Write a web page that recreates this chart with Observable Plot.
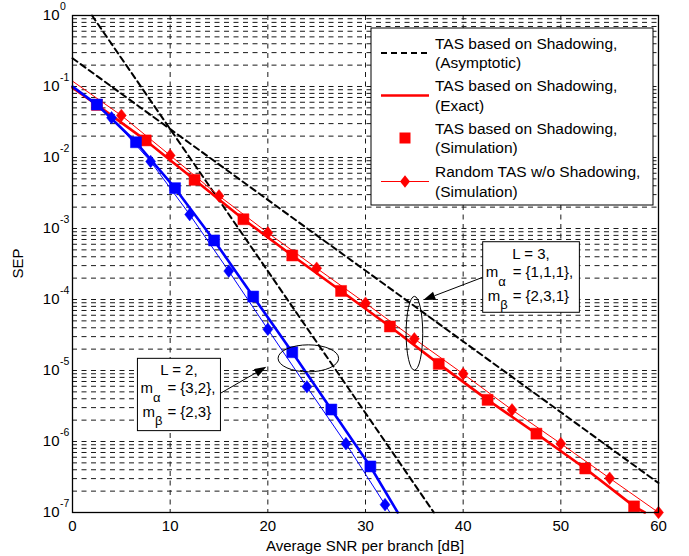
<!DOCTYPE html>
<html><head><meta charset="utf-8">
<script src="https://cdn.jsdelivr.net/npm/d3@7"></script>
<script src="https://cdn.jsdelivr.net/npm/@observablehq/plot@0.6"></script>
<style>
html,body{margin:0;padding:0;background:#fff;}
#chart svg{display:block;}
</style>
</head><body><div id="chart"></div>
<script>
const FONT = "'Liberation Sans', Arial, Helvetica, sans-serif";

// ---- axis ticks ----
const xTicks = [0, 10, 20, 30, 40, 50, 60];
const xGridTicks = [10, 20, 30, 40, 50];
const yDecades = [-7, -6, -5, -4, -3, -2, -1, 0];
const yMinorMultipliers = [1, 2, 3, 4, 5, 6, 7, 8, 9];

// ---- L = 2 (blue) ----
const blueSquareSNR = [2.5, 6.5, 10.5, 14.5, 18.5, 22.5, 26.5, 30.5];
const blueSquareSEP = [5.57e-2, 1.64e-2, 3.70e-3, 6.78e-4, 1.10e-4, 1.81e-5, 2.82e-6, 4.45e-7];
const blueExactSNR = [0, 2.5, 6.5, 10.5, 14.5, 18.5, 22.5, 26.5, 30.5, 33.3];
const blueExactSEP = [1.0e-1, 5.57e-2, 1.64e-2, 3.70e-3, 6.78e-4, 1.10e-4, 1.81e-5, 2.82e-6, 4.45e-7, 1e-7];
const blueDiamondSNR = [4, 8, 12, 16, 20, 24, 28, 32];
const blueDiamondSEP = [3.63e-2, 8.79e-3, 1.57e-3, 2.51e-4, 3.80e-5, 5.89e-6, 9.33e-7, 1.29e-7];
const blueRandSNR = [0, 4, 8, 12, 16, 20, 24, 28, 32, 32.5];
const blueRandSEP = [9.8e-2, 3.63e-2, 8.79e-3, 1.57e-3, 2.51e-4, 3.80e-5, 5.89e-6, 9.33e-7, 1.29e-7, 1e-7];
const blueAsymSNR = [2, 37];
const blueAsymSEP = [1, 1e-7];

// ---- L = 3 (red) ----
const redSquareSNR = [2.5, 7.5, 12.5, 17.5, 22.5, 27.5, 32.5, 37.5, 42.5, 47.5, 52.5, 57.5];
const redSquareSEP = [5.5e-2, 1.74e-2, 4.85e-3, 1.35e-3, 4.17e-4, 1.32e-4, 4.17e-5, 1.24e-5, 3.86e-6, 1.29e-6, 4.17e-7, 1.22e-7];
const redExactSNR = [0, 2.5, 7.5, 12.5, 17.5, 22.5, 27.5, 32.5, 37.5, 42.5, 47.5, 52.5, 57.5, 58.6];
const redExactSEP = [9.6e-2, 5.5e-2, 1.74e-2, 4.85e-3, 1.35e-3, 4.17e-4, 1.32e-4, 4.17e-5, 1.24e-5, 3.86e-6, 1.29e-6, 4.17e-7, 1.22e-7, 1e-7];
const redDiamondSNR = [5, 10, 15, 20, 25, 30, 35, 40, 45, 50, 55, 60];
const redDiamondSEP = [3.91e-2, 1.07e-2, 2.88e-3, 8.69e-4, 2.76e-4, 8.87e-5, 2.79e-5, 8.97e-6, 2.79e-6, 9.33e-7, 3.04e-7, 1.0e-7];
const redRandSNR = [0, 5, 10, 15, 20, 25, 30, 35, 40, 45, 50, 55, 60];
const redRandSEP = [1.19e-1, 3.91e-2, 1.07e-2, 2.88e-3, 8.69e-4, 2.76e-4, 8.87e-5, 2.79e-5, 8.97e-6, 2.79e-6, 9.33e-7, 3.04e-7, 1.0e-7];
const redAsymSNR = [0, 60];
const redAsymSEP = [2.5e-1, 2.6e-7];

// ---- legend ----
const legendLabels = [
  ["TAS based on Shadowing,", "(Asymptotic)"],
  ["TAS based on Shadowing,", "(Exact)"],
  ["TAS based on Shadowing,", "(Simulation)"],
  ["Random TAS w/o Shadowing,", "(Simulation)"]
];

// ---- annotations (data coordinates) ----
const annotations = [
  { L: "L = 2,", ma: "= {3,2},", mb: "= {2,3}",
    box: {x1: 6.7, x2: 15.2, y1: 1.46e-5, y2: 1.40e-6},
    ellipse: {x: 24.2, y: 1.46e-5, dx: 3.1, ddec: 0.19},
    arrow: {from: [15.2, 4.7e-6], to: [19.9, 1.11e-5]} },
  { L: "L = 3,", ma: "= {1,1,1},", mb: "= {2,3,1}",
    box: {x1: 42.05, x2: 51.95, y1: 6.41e-4, y2: 6.5e-5},
    ellipse: {x: 35.06, y: 3.29e-5, dx: 0.85, ddec: 0.52},
    arrow: {from: [42.05, 2.02e-4], to: [35.97, 9.68e-5]} }
];

const RED = "#ff0000", BLUE = "#0000ff";

const toRows = (xs, ys) => xs.map((x, i) => ({x, y: ys[i]}));

const squareSym = {draw(ctx, size) {
  const r = Math.sqrt(size / Math.PI);
  ctx.moveTo(-r, -r); ctx.lineTo(r, -r); ctx.lineTo(r, r); ctx.lineTo(-r, r); ctx.closePath();
}};
const diamondSym = {draw(ctx, size) {
  const r = Math.sqrt(size / Math.PI);
  const hx = r * 0.79;
  ctx.moveTo(0, -r); ctx.lineTo(hx, 0); ctx.lineTo(0, r); ctx.lineTo(-hx, 0); ctx.closePath();
}};

const yGrid = [];
for (const k of yDecades) {
  if (k === 0) continue;
  for (const m of yMinorMultipliers) yGrid.push(m * Math.pow(10, k));
}

const gridStyle = {stroke: "#1a1a1a", strokeDasharray: "5,4.5", strokeWidth: 1};

const chart = Plot.plot({
  width: 689, height: 556,
  marginLeft: 72, marginRight: 31, marginTop: 15, marginBottom: 44,
  style: {fontFamily: FONT, fontSize: "15px", background: "#fff", color: "#000"},
  x: {domain: [0, 60], ticks: xTicks, tickSize: 0, tickPadding: 8, label: null},
  y: {type: "log", domain: [1e-7, 1], axis: null},
  marks: [
    Plot.ruleY(yGrid, gridStyle),
    Plot.ruleX(xGridTicks, gridStyle),
    Plot.line(toRows(blueAsymSNR, blueAsymSEP), {x: "x", y: "y", stroke: "#000", strokeWidth: 2, strokeDasharray: "6,4"}),
    Plot.line(toRows(redAsymSNR, redAsymSEP), {x: "x", y: "y", stroke: "#000", strokeWidth: 2, strokeDasharray: "6,4"}),
    Plot.line(toRows(redRandSNR, redRandSEP), {x: "x", y: "y", stroke: RED, strokeWidth: 1}),
    Plot.line(toRows(redExactSNR, redExactSEP), {x: "x", y: "y", stroke: RED, strokeWidth: 2.6}),
    Plot.dot(toRows(redSquareSNR, redSquareSEP), {x: "x", y: "y", symbol: squareSym, r: 5.5, fill: RED, stroke: RED, strokeWidth: 0.5}),
    Plot.dot(toRows(redDiamondSNR, redDiamondSEP), {x: "x", y: "y", symbol: diamondSym, r: 6.3, fill: RED, stroke: RED, strokeWidth: 0.5}),
    Plot.line(toRows(blueRandSNR, blueRandSEP), {x: "x", y: "y", stroke: BLUE, strokeWidth: 1}),
    Plot.line(toRows(blueExactSNR, blueExactSEP), {x: "x", y: "y", stroke: BLUE, strokeWidth: 2.6}),
    Plot.dot(toRows(blueSquareSNR, blueSquareSEP), {x: "x", y: "y", symbol: squareSym, r: 5.5, fill: BLUE, stroke: BLUE, strokeWidth: 0.5}),
    Plot.dot(toRows(blueDiamondSNR, blueDiamondSEP), {x: "x", y: "y", symbol: diamondSym, r: 6.3, fill: BLUE, stroke: BLUE, strokeWidth: 0.5}),
    Plot.frame({stroke: "#000", strokeWidth: 1.3})
  ]
});

document.getElementById("chart").appendChild(chart);

const svg = d3.select(chart);
const sx = chart.scale("x"), sy = chart.scale("y");
const X = v => sx.apply(v), Y = v => sy.apply(v);

// y tick labels 10^k
const yl = svg.append("g").attr("font-family", FONT).attr("fill", "#000").attr("text-anchor", "start");
for (const k of yDecades) {
  const y = Y(Math.pow(10, k));
  yl.append("text").attr("x", 59.5).attr("y", y + 5).attr("text-anchor", "end").attr("font-size", 15).text("10");
  yl.append("text").attr("x", 60).attr("y", y - 5.5).attr("text-anchor", "start").attr("font-size", 10.5).text(k === 0 ? "0" : "-" + (-k));
}

// axis titles
svg.append("text").attr("x", (X(0) + X(60)) / 2).attr("y", 551).attr("text-anchor", "middle")
  .attr("font-family", FONT).attr("font-size", 15).text("Average SNR per branch [dB]");
svg.append("text").attr("transform", `translate(23,${(Y(1) + Y(1e-7)) / 2}) rotate(-90)`).attr("text-anchor", "middle")
  .attr("font-family", FONT).attr("font-size", 15).text("SEP");

// annotations
const ag = svg.append("g").attr("font-family", FONT).attr("font-size", 15).attr("fill", "#000").attr("text-anchor", "start");
for (const a of annotations) {
  // ellipse
  const cx = X(a.ellipse.x), cy = Y(a.ellipse.y);
  const rx = X(a.ellipse.x + a.ellipse.dx) - cx;
  const ry = Y(a.ellipse.y / Math.pow(10, a.ellipse.ddec)) - cy;
  ag.append("ellipse").attr("cx", cx).attr("cy", cy).attr("rx", rx).attr("ry", ry)
    .attr("fill", "none").attr("stroke", "#000").attr("stroke-width", 1);
  // arrow
  const x0 = X(a.arrow.from[0]), y0 = Y(a.arrow.from[1]);
  const x1 = X(a.arrow.to[0]), y1 = Y(a.arrow.to[1]);
  const ang = Math.atan2(y1 - y0, x1 - x0);
  const hl = 12, hw = 4.2;
  const bx = x1 - hl * Math.cos(ang), by = y1 - hl * Math.sin(ang);
  ag.append("line").attr("x1", x0).attr("y1", y0).attr("x2", bx).attr("y2", by).attr("stroke", "#000").attr("stroke-width", 1);
  ag.append("path").attr("d", `M${x1},${y1}L${bx - hw * Math.sin(ang)},${by + hw * Math.cos(ang)}L${bx + hw * Math.sin(ang)},${by - hw * Math.cos(ang)}Z`)
    .attr("fill", "#000");
  // box
  const bx1 = X(a.box.x1), bx2 = X(a.box.x2), by1 = Y(a.box.y1), by2 = Y(a.box.y2);
  ag.append("rect").attr("x", bx1).attr("y", by1).attr("width", bx2 - bx1).attr("height", by2 - by1)
    .attr("fill", "#fff").attr("stroke", "#000").attr("stroke-width", 1);
  ag.append("text").attr("x", (bx1 + bx2) / 2).attr("y", by1 + 17).attr("text-anchor", "middle").text(a.L);
  const t2 = ag.append("text").attr("x", bx1 + 3).attr("y", by1 + 35);
  t2.append("tspan").text("m");
  t2.append("tspan").attr("font-size", 13).attr("dy", 9).text("α");
  t2.append("tspan").attr("x", bx1 + 30).attr("dy", -9).text(a.ma);
  const t3 = ag.append("text").attr("x", bx1 + 5).attr("y", by1 + 59);
  t3.append("tspan").text("m");
  t3.append("tspan").attr("font-size", 13).attr("dy", 8).text("β");
  t3.append("tspan").attr("x", bx1 + 30).attr("dy", -8).text(a.mb);
}

// legend
const lg = svg.append("g").attr("font-family", FONT).attr("font-size", 15.5).attr("fill", "#000").attr("text-anchor", "start");
lg.append("rect").attr("x", 371).attr("y", 28).attr("width", 282).attr("height", 177)
  .attr("fill", "#fff").attr("stroke", "#000").attr("stroke-width", 1);
const rowY = [53, 95.5, 138, 181.5];
legendLabels.forEach((lab, i) => {
  const cy = rowY[i];
  lg.append("text").attr("x", 435).attr("y", cy - 4.5).text(lab[0]);
  lg.append("text").attr("x", 435).attr("y", cy + 15).text(lab[1]);
});
lg.append("line").attr("x1", 381).attr("x2", 429).attr("y1", rowY[0]).attr("y2", rowY[0])
  .attr("stroke", "#000").attr("stroke-width", 2).attr("stroke-dasharray", "6,4");
lg.append("line").attr("x1", 381).attr("x2", 429).attr("y1", rowY[1]).attr("y2", rowY[1])
  .attr("stroke", RED).attr("stroke-width", 2.6);
lg.append("path").attr("d", d3.symbol(squareSym, Math.PI * 5.5 * 5.5)()).attr("transform", `translate(405,${rowY[2]})`)
  .attr("fill", RED);
lg.append("line").attr("x1", 381).attr("x2", 429).attr("y1", rowY[3]).attr("y2", rowY[3])
  .attr("stroke", RED).attr("stroke-width", 1);
lg.append("path").attr("d", d3.symbol(diamondSym, Math.PI * 6.3 * 6.3)()).attr("transform", `translate(405,${rowY[3]})`)
  .attr("fill", RED);
</script>
</body></html>
